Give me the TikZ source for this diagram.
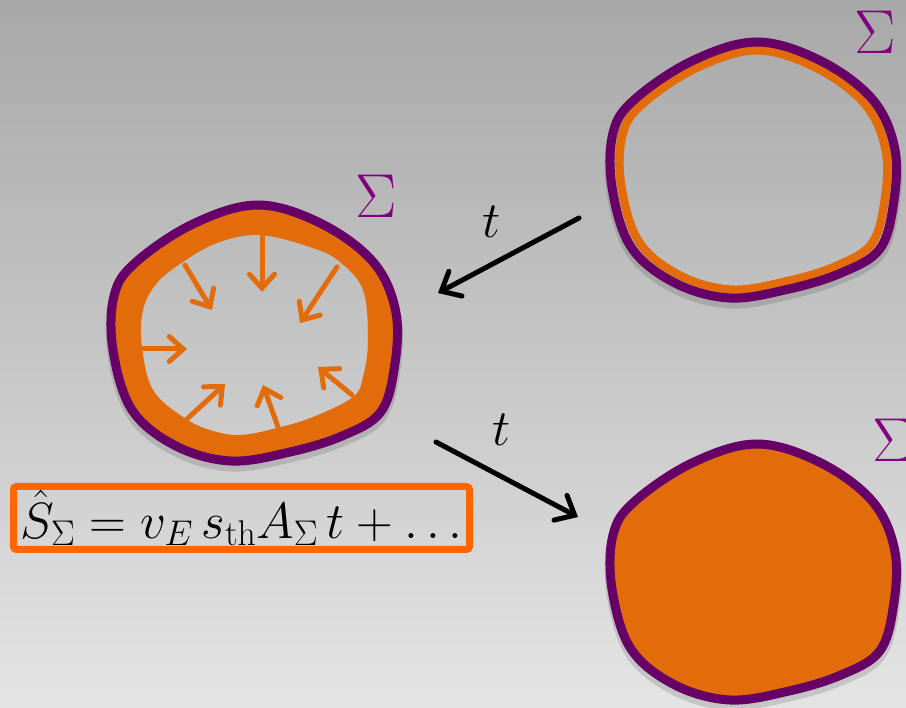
\RequirePackage{fix-cm}
\documentclass[tikz,border=0pt]{standalone}
\usetikzlibrary{arrows.meta}
\definecolor{ringpurple}{RGB}{102,0,102}
\definecolor{sigmapurple}{RGB}{128,0,128}
\definecolor{blobor}{RGB}{227,108,10}
\definecolor{boxor}{RGB}{255,102,0}
\definecolor{bgtop}{RGB}{168,168,168}
\definecolor{bgbot}{RGB}{228,228,228}
\newcommand\blobshape{plot[smooth cycle, tension=0.6] coordinates {(2,-128) (66,-109) (118,-70) (140,-20) (138,37) (124,80) (86,103) (34,119) (-25,128) (-80,113) (-124,77) (-143,17) (-142,-37) (-121,-70) (-63,-109)}}
\newcommand\holeshape{plot[smooth cycle, tension=0.6] coordinates {(4,-98) (57,-85) (84,-71) (107,-43) (112,7) (107,44) (97,64) (57,84) (21,95) (-16,102) (-46,97) (-73,84) (-103,57) (-114,14) (-113,-23) (-99,-50) (-73,-71) (-39,-90)}}
\begin{document}
\begin{tikzpicture}[x=1pt,y=-1pt,
  ring/.style={draw=ringpurple,line width=9pt},
  shadowline/.style={draw=black,opacity=0.13,line width=11pt},
  inarrow/.style={draw=blobor,line width=5pt,line cap=round,-{Straight Barb[length=14pt,width=25pt,line cap=round]}},
  timearrow/.style={draw=black,line width=5pt,line cap=round,-{Straight Barb[length=16pt,width=28pt,line cap=round]}},
  biglabel/.style={font=\fontsize{51}{60}\selectfont,inner sep=0pt},
  sigmalabel/.style={text=sigmapurple,font=\fontsize{62}{70}\selectfont,inner sep=0pt}]
\shade[top color=bgtop,bottom color=bgbot] (0,0) rectangle (906,708);
\useasboundingbox (0,0) rectangle (906,708);
% blob centres
\coordinate (bl) at (256,333);
\coordinate (btr) at (755,170);
\coordinate (bbr) at (755,572);
% left blob: thick orange band
\begin{scope}[shift={(bl)}]
  \draw[shadowline,yshift=-5pt] \blobshape;
  \fill[blobor,even odd rule] \blobshape \holeshape;
  \draw[ring] \blobshape;
\end{scope}
% top right blob: thin orange ring
\begin{scope}[shift={(btr)}]
  \draw[shadowline,yshift=-5pt] \blobshape;
  \draw[blobor,line width=8.5pt,scale=0.935] \blobshape;
  \draw[ring] \blobshape;
\end{scope}
% bottom right blob: filled
\begin{scope}[shift={(bbr)}]
  \draw[shadowline,yshift=-5pt] \blobshape;
  \draw[ring,fill=blobor] \blobshape;
\end{scope}
% inward arrows
\coordinate (i1s) at (262,235); \coordinate (i1e) at (262,292);
\coordinate (i2s) at (185,265); \coordinate (i2e) at (212,310);
\coordinate (i3s) at (337,267); \coordinate (i3e) at (300,323);
\coordinate (i4s) at (142,349); \coordinate (i4e) at (187,349);
\coordinate (i5s) at (187,419); \coordinate (i5e) at (225,384);
\coordinate (i6s) at (278,427); \coordinate (i6e) at (263,385);
\coordinate (i7s) at (352,395); \coordinate (i7e) at (318,367);
\foreach \k in {1,...,7} {\draw[inarrow] (i\k s) -- (i\k e);}
% sigma labels
\node[sigmalabel] (s1) at (376,196) {$\Sigma$};
\node[sigmalabel] (s2) at (875,32) {$\Sigma$};
\node[sigmalabel] (s3) at (893,440) {$\Sigma$};
% time arrows
\coordinate (a1s) at (579,218); \coordinate (a1e) at (438,293);
\coordinate (a2s) at (436,442); \coordinate (a2e) at (578,517);
\draw[timearrow] (a1s) -- (a1e);
\draw[timearrow] (a2s) -- (a2e);
\node[biglabel] (t1) at (492,222) {$t$};
\node[biglabel] (t2) at (502,430) {$t$};
% formula
\node[biglabel,draw=boxor,line width=7pt,rounded corners=3pt,minimum width=456pt,minimum height=63pt] (f) at (241.5,518) {$\hat{S}_{\Sigma}=v_E\,s_{\mathrm{th}}A_{\Sigma}\,t+\ldots$};
\end{tikzpicture}
\end{document}
